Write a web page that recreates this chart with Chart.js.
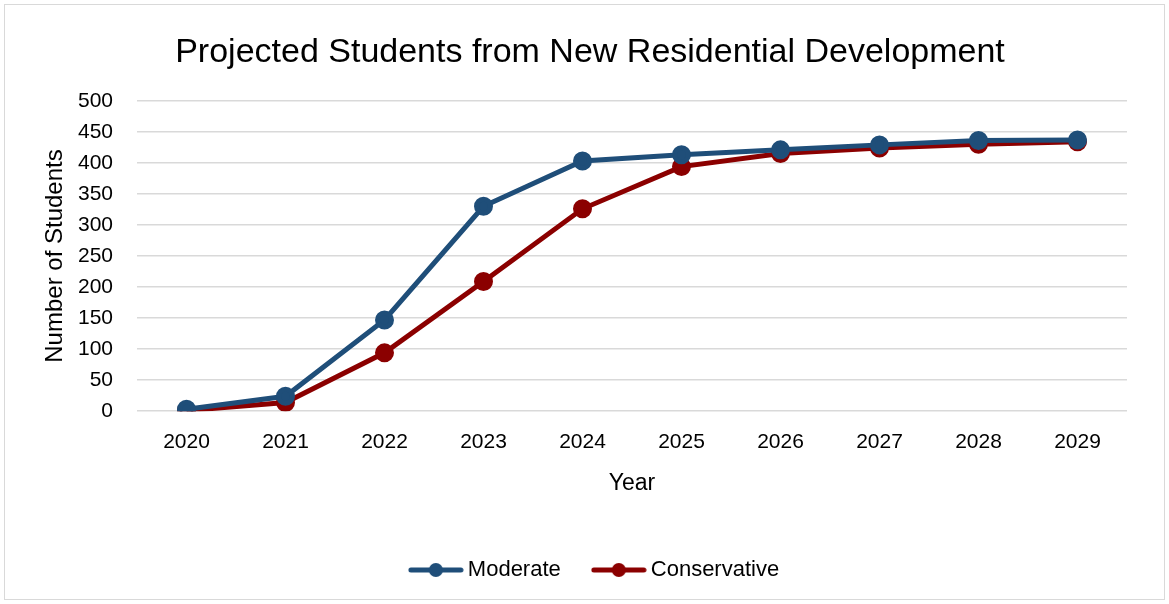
<!DOCTYPE html>
<html>
<head>
<meta charset="utf-8">
<script src="https://cdn.jsdelivr.net/npm/chart.js@4"></script>
<style>
  html, body { margin: 0; padding: 0; background: #fff; }
  #wrap { position: absolute; left: 4px; top: 4px; width: 1161px; height: 596px; border: 1px solid #d9d9d9; box-sizing: border-box; }
</style>
</head>
<body>
<div id="wrap"><canvas id="myChart"></canvas></div>
<script>
const years = ["2020", "2021", "2022", "2023", "2024", "2025", "2026", "2027", "2028", "2029"];
const moderate = [3, 24, 147, 330, 403, 413, 421, 429, 436, 437];
const conservative = [1, 14, 94, 209, 326, 394, 415, 424, 430, 434];

const blue = "#1f4e79";
const red = "#8b0000";
const font = "'Liberation Sans', Arial, sans-serif";

// legend marker: a short line with a dot in the middle
function legendMark(color) {
	const c = document.createElement("canvas");
	c.width = 56;
	c.height = 16;
	const g = c.getContext("2d");
	g.strokeStyle = color;
	g.lineWidth = 5;
	g.lineCap = "round";
	g.beginPath();
	g.moveTo(3, 8);
	g.lineTo(53, 8);
	g.stroke();
	g.fillStyle = color;
	g.beginPath();
	g.arc(28, 8, 7, 0, Math.PI * 2);
	g.fill();
	return c;
}

// nudge title and legend sideways to sit like the original
const nudge = {
	id: "nudge",
	afterLayout(chart) {
		chart.titleBlock.left += 8;
		chart.titleBlock.right += 8;
		chart.legend.left += 15;
		chart.legend.right += 15;
	},
};

const ctx = document.getElementById("myChart").getContext("2d");
const myChart = new Chart(ctx, {
	type: "line",
	data: {
		labels: years,
		datasets: [
			{
				label: "Moderate",
				data: moderate,
				borderColor: blue,
				backgroundColor: blue,
				borderWidth: 5,
				pointRadius: 7,
				pointHoverRadius: 7,
				fill: false,
			},
			{
				label: "Conservative",
				data: conservative,
				borderColor: red,
				backgroundColor: red,
				borderWidth: 5,
				pointRadius: 7,
				pointHoverRadius: 7,
				fill: false,
			},
		],
	},
	plugins: [nudge],
	options: {
		responsive: true,
		maintainAspectRatio: false,
		animation: false,
		layout: { padding: { left: 32, right: 37, top: 18, bottom: 8 } },
		plugins: {
			title: {
				display: true,
				text: "Projected Students from New Residential Development",
				color: "#000",
				font: { family: font, size: 34, weight: "normal" },
				padding: { top: 9, bottom: 28 },
			},
			legend: {
				position: "bottom",
				labels: {
					usePointStyle: true,
					pointStyleWidth: 42,
					color: "#000",
					font: { family: font, size: 22 },
					padding: 37,
					generateLabels: (chart) =>
						chart.data.datasets.map((ds, i) => ({
							text: ds.label,
							pointStyle: legendMark(ds.borderColor),
							fillStyle: ds.borderColor,
							strokeStyle: ds.borderColor,
							lineWidth: 0,
							fontColor: "#000",
							datasetIndex: i,
						})),
				},
			},
			tooltip: { enabled: false },
		},
		scales: {
			x: {
				offset: true,
				grid: { display: false },
				border: { display: false },
				ticks: { color: "#000", font: { family: font, size: 21 }, padding: 10 },
				title: {
					display: true,
					text: "Year",
					color: "#000",
					font: { family: font, size: 23 },
					padding: { top: 5, bottom: 25 },
				},
			},
			y: {
				min: 0,
				max: 500,
				border: { display: false },
				grid: { color: "#d9d9d9", lineWidth: 1.5, drawTicks: false },
				ticks: { stepSize: 50, color: "#000", font: { family: font, size: 21 }, padding: 24 },
				title: {
					display: true,
					text: "Number of Students",
					color: "#000",
					font: { family: font, size: 24 },
					padding: { top: 4, bottom: 4 },
				},
				afterFit: (scale) => { scale.width = 100; },
			},
		},
	},
});
</script>
</body>
</html>
